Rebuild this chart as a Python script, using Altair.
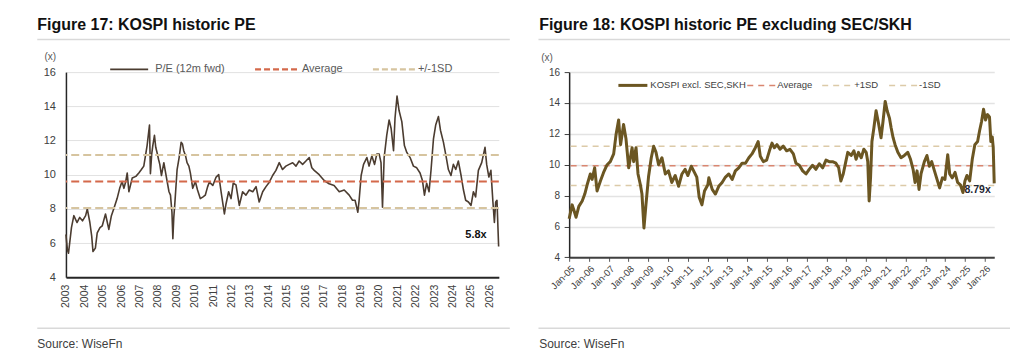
import altair as alt
import pandas as pd

FONT = "Liberation Sans"

# ---------------- Figure 17: KOSPI 12m forward P/E ----------------
kospi_year = [
    2003.00, 2003.08, 2003.14, 2003.30, 2003.43, 2003.60, 2003.75, 2003.90, 2004.07, 2004.16,
    2004.30, 2004.40, 2004.47, 2004.60, 2004.70, 2004.85, 2004.97, 2005.15, 2005.33, 2005.47,
    2005.60, 2005.78, 2005.92, 2006.05, 2006.15, 2006.25, 2006.33, 2006.42, 2006.60, 2006.80,
    2006.96, 2007.10, 2007.23, 2007.41, 2007.54, 2007.59, 2007.66, 2007.72, 2007.81, 2007.88,
    2007.95, 2008.03, 2008.10, 2008.19, 2008.32, 2008.40, 2008.50, 2008.60, 2008.68, 2008.76,
    2008.81, 2008.86, 2008.91, 2009.04, 2009.15, 2009.26, 2009.33, 2009.40, 2009.50, 2009.58,
    2009.68, 2009.76, 2009.89, 2010.03, 2010.15, 2010.30, 2010.45, 2010.57, 2010.70, 2010.79,
    2010.98, 2011.16, 2011.30, 2011.43, 2011.61, 2011.70, 2011.84, 2011.97, 2012.09, 2012.24,
    2012.42, 2012.60, 2012.78, 2012.96, 2013.15, 2013.33, 2013.50, 2013.69, 2013.87, 2014.05,
    2014.23, 2014.41, 2014.59, 2014.77, 2014.95, 2015.13, 2015.32, 2015.50, 2015.67, 2015.86,
    2016.04, 2016.22, 2016.36, 2016.49, 2016.76, 2017.03, 2017.30, 2017.57, 2017.85, 2018.12,
    2018.39, 2018.57, 2018.71, 2018.86, 2018.93, 2019.04, 2019.17, 2019.35, 2019.47, 2019.62,
    2019.77, 2019.89, 2020.02, 2020.12, 2020.20, 2020.29, 2020.43, 2020.56, 2020.67, 2020.80,
    2020.88, 2020.99, 2021.10, 2021.25, 2021.39, 2021.52, 2021.70, 2021.88, 2022.06, 2022.24,
    2022.37, 2022.48, 2022.60, 2022.73, 2022.84, 2022.97, 2023.09, 2023.24, 2023.35, 2023.51,
    2023.65, 2023.78, 2023.92, 2024.05, 2024.18, 2024.32, 2024.47, 2024.60, 2024.72, 2024.87,
    2025.01, 2025.14, 2025.26, 2025.41, 2025.59, 2025.77, 2025.86, 2025.98, 2026.09, 2026.20,
    2026.28, 2026.35, 2026.42, 2026.51,
]
kospi_pe = [
    6.5, 5.6, 5.4, 6.9, 7.6, 7.2, 7.5, 7.3, 7.6, 8.0,
    7.2, 6.4, 5.5, 5.7, 6.6, 6.9, 7.0, 7.7, 6.8, 7.6,
    8.0, 8.6, 9.2, 9.6, 9.2, 9.6, 10.1, 9.0, 9.8, 9.9,
    10.1, 10.3, 10.5, 11.7, 12.9, 10.05, 11.2, 11.7, 12.3, 11.6,
    11.3, 10.9, 10.6, 9.95, 10.7, 10.2, 9.6, 9.0, 8.8, 7.8,
    6.25, 7.5, 8.2, 10.3, 11.0, 11.9, 11.8, 11.4, 11.1, 10.7,
    10.5, 10.1, 9.2, 9.6, 9.1, 8.6, 8.7, 8.8, 9.3, 9.56,
    9.37, 9.86, 10.0, 9.0, 7.7, 8.3, 9.0, 8.6, 9.5, 9.4,
    8.2, 9.0, 8.8, 9.1, 9.0, 9.3, 8.4, 9.0, 9.3, 9.56,
    9.95, 10.25, 10.7, 10.3, 10.5, 10.6, 10.7, 10.5, 10.8, 10.6,
    10.8, 11.0, 10.4, 10.25, 10.0, 9.66, 9.47, 9.37, 9.0, 9.1,
    8.8, 8.5, 8.5, 7.8, 8.5, 9.95, 10.6, 11.0, 10.5, 11.1,
    10.6, 11.2, 11.2, 10.7, 8.1, 11.0, 12.3, 13.2, 12.7, 11.4,
    13.3, 14.6, 13.75, 13.1, 11.7, 11.3, 11.0, 10.5, 10.4, 10.1,
    9.66, 8.8, 9.5, 9.0, 10.3, 12.1, 12.9, 13.4, 12.6, 11.9,
    11.1, 10.3, 9.95, 10.6, 10.3, 10.8, 9.95, 9.1, 8.5, 8.4,
    8.2, 9.0, 8.7, 10.25, 10.7, 11.6, 10.6, 9.86, 10.25, 8.4,
    7.2, 8.4, 8.5, 5.8,
]
kospi_avg = 9.6
kospi_sd_hi = 11.15
kospi_sd_lo = 8.05

# ------------- Figure 18: KOSPI excluding SEC/SKH, 12m forward P/E -------------
excl_year = [
    2005.00, 2005.15, 2005.23, 2005.35, 2005.49, 2005.66, 2005.79, 2005.91, 2006.07, 2006.16,
    2006.29, 2006.41, 2006.58, 2006.74, 2006.92, 2007.08, 2007.25, 2007.37, 2007.50, 2007.60,
    2007.75, 2007.87, 2008.01, 2008.18, 2008.26, 2008.38, 2008.48, 2008.60, 2008.68, 2008.78,
    2008.88, 2009.01, 2009.15, 2009.27, 2009.39, 2009.52, 2009.69, 2009.86, 2010.02, 2010.19,
    2010.36, 2010.53, 2010.70, 2010.86, 2011.00, 2011.17, 2011.33, 2011.45, 2011.57, 2011.71,
    2011.84, 2012.01, 2012.06, 2012.23, 2012.39, 2012.56, 2012.73, 2012.90, 2013.07, 2013.24,
    2013.40, 2013.57, 2013.74, 2013.91, 2014.08, 2014.24, 2014.41, 2014.55, 2014.66, 2014.81,
    2014.98, 2015.12, 2015.25, 2015.37, 2015.50, 2015.66, 2015.82, 2015.99, 2016.16, 2016.33,
    2016.46, 2016.63, 2016.80, 2016.97, 2017.13, 2017.30, 2017.47, 2017.64, 2017.81, 2017.98,
    2018.14, 2018.31, 2018.48, 2018.62, 2018.73, 2018.85, 2018.98, 2019.08, 2019.25, 2019.39,
    2019.50, 2019.62, 2019.76, 2019.89, 2020.01, 2020.09, 2020.16, 2020.23, 2020.30, 2020.40,
    2020.51, 2020.63, 2020.76, 2020.86, 2020.97, 2021.07, 2021.19, 2021.27, 2021.37, 2021.47,
    2021.61, 2021.77, 2021.94, 2022.11, 2022.25, 2022.38, 2022.48, 2022.58, 2022.68, 2022.78,
    2022.95, 2023.08, 2023.20, 2023.32, 2023.46, 2023.59, 2023.72, 2023.86, 2023.99, 2024.13,
    2024.23, 2024.36, 2024.50, 2024.63, 2024.77, 2024.90, 2025.00, 2025.10, 2025.24, 2025.37,
    2025.50, 2025.64, 2025.74, 2025.84, 2025.94, 2026.04, 2026.14, 2026.24, 2026.31, 2026.38,
    2026.43, 2026.48,
]
excl_pe = [
    6.5, 7.4, 7.1, 6.6, 7.3, 7.65, 8.1, 8.7, 9.4, 9.05,
    9.8, 8.3, 8.95, 9.5, 10.0, 10.2, 10.7, 11.95, 12.9, 11.3,
    12.6, 11.7, 9.8, 11.1, 10.2, 11.1, 9.4, 8.7, 8.1, 5.9,
    7.4, 9.2, 10.45, 11.2, 10.8, 10.0, 10.45, 9.4, 9.6, 8.85,
    9.3, 8.6, 9.4, 9.7, 9.3, 9.9, 9.5, 9.2, 7.9, 7.4,
    8.3, 8.7, 9.15, 8.4, 8.1, 8.6, 8.85, 9.2, 9.4, 9.05,
    9.6, 9.8, 10.1, 10.1, 10.45, 10.7, 11.1, 11.5, 10.55, 10.2,
    10.3, 10.9, 11.4, 11.1, 11.3, 11.0, 11.2, 10.9, 11.0, 10.7,
    10.1, 9.96, 9.6, 9.4, 9.7, 9.96, 9.7, 10.06, 9.8, 10.3,
    10.2, 10.2, 10.1, 9.8, 8.95, 9.4, 10.2, 10.8, 10.6, 10.9,
    10.35, 10.8, 10.45, 11.0, 10.8, 10.2, 7.65, 9.15, 11.5, 12.4,
    13.5, 12.7, 11.75, 12.8, 14.1, 13.5, 13.0, 12.4, 11.75, 11.3,
    10.8, 10.45, 10.6, 10.8, 10.35, 9.7, 8.85, 9.6, 8.4, 9.4,
    10.2, 10.6, 9.9, 10.2, 9.6, 9.05, 8.5, 9.15, 9.05, 10.65,
    9.4, 9.15, 9.5, 8.85, 8.7, 8.2, 8.95, 9.3, 8.95, 10.35,
    11.3, 11.5, 12.2, 12.8, 13.6, 12.9, 13.25, 13.1, 11.5, 11.8,
    11.1, 8.79,
]
excl_avg = 9.93
excl_sd_hi = 11.2
excl_sd_lo = 8.65

left_year_ticks = list(range(2003, 2027))
right_year_ticks = list(range(2005, 2027))
pe_ticks = [4, 6, 8, 10, 12, 14, 16]

left_df = pd.DataFrame({"year": kospi_year, "pe": kospi_pe})
right_df = pd.DataFrame({"year": excl_year, "pe": excl_pe})

# ---------------- layout (pixels, relative to each plot origin) ----------------
L_W, L_H = 433.3, 205.3
R_W, R_H = 425.5, 185.4
L_X0, TOP = 65.7, 71.7
R_X0 = 568.7
GAP = (R_X0 - L_X0) - L_W

TEXT_DARK = "#111111"
TEXT_MID = "#404040"
SEP = "#d9d9d9"

ONE = alt.Data(values=[{}])


def text_at(x, y, s, size, color=TEXT_MID, weight="normal", align="left", baseline="middle"):
    return alt.Chart(ONE).mark_text(
        text=s, font=FONT, fontSize=size, color=color, fontWeight=weight,
        align=align, baseline=baseline,
    ).encode(x=alt.value(x), y=alt.value(y))


def hline(x1, x2, y, color, width, dash=None):
    props = dict(color=color, strokeWidth=width)
    if dash:
        props["strokeDash"] = dash
    return alt.Chart(ONE).mark_rule(**props).encode(
        x=alt.value(x1), x2=alt.value(x2), y=alt.value(y)
    )


def anchor(x, y):
    return alt.Chart(ONE).mark_rect(opacity=0).encode(
        x=alt.value(x), x2=alt.value(x + 1), y=alt.value(y), y2=alt.value(y + 1)
    )


# ---------------- left panel ----------------
lx_axis = alt.Axis(
    values=left_year_ticks, format="d", labelAngle=270, labelFont=FONT, labelFontSize=10.5,
    labelColor=TEXT_MID, ticks=False, tickSize=0, labelPadding=7, domainColor="#262626",
    domainWidth=2, grid=False, title=None, labelOverlap=False, labelFlush=False,
)
ly_axis = alt.Axis(
    values=pe_ticks, labelFont=FONT, labelFontSize=11, labelColor=TEXT_MID, ticks=False,
    tickSize=0, labelPadding=10.5, domainColor="#262626", domainWidth=1.5,
    gridColor="#e2e2e2", gridWidth=1, title=None,
)
lx = alt.X("year:Q", scale=alt.Scale(domain=[2003, 2026.52], nice=False, zero=False), axis=lx_axis)
ly = alt.Y("pe:Q", scale=alt.Scale(domain=[4, 16], nice=False, zero=False), axis=ly_axis)

L_LINE = "#4b3c30"
L_RED = "#d4694b"
L_TAN = "#d6c49f"

left_line = alt.Chart(left_df).mark_line(color=L_LINE, strokeWidth=1.6, strokeJoin="round").encode(x=lx, y=ly)


def level_rule(value, color, width, dash, x_enc, y_enc):
    return alt.Chart(pd.DataFrame({"pe": [value]})).mark_rule(
        color=color, strokeWidth=width, strokeDash=dash
    ).encode(y=y_enc)


left_levels = [
    level_rule(kospi_sd_hi, L_TAN, 2.2, [8, 4], lx, ly),
    level_rule(kospi_sd_lo, L_TAN, 2.2, [8, 4], lx, ly),
    level_rule(kospi_avg, L_RED, 2.2, [8, 4], lx, ly),
]

left_label = alt.Chart(left_df.tail(1)).transform_calculate(
    lab="format(datum.pe, '.1f') + 'x'"
).mark_text(
    font=FONT, fontSize=11, fontWeight="bold", color=TEXT_DARK, align="right",
    baseline="middle", dx=-12, dy=-11,
).encode(x=lx, y=ly, text="lab:N")

left_deco = [
    anchor(-L_X0, -TOP),
    text_at(-28.7, -41.7, "Figure 17: KOSPI historic PE", 16, TEXT_DARK, "bold", baseline="alphabetic"),
    hline(-28.7, 444.3, -32.7, SEP, 1.5),
    text_at(-15.7, -14.7, "(x)", 10, "#595959", align="center"),
    hline(44.3, 82.3, -2.7, L_LINE, 1.6),
    text_at(89.3, -2.7, "P/E (12m fwd)", 11, "#595959"),
    hline(189.3, 232.3, -2.7, L_RED, 2.2, [6, 3]),
    text_at(236.3, -2.7, "Average", 11, "#595959"),
    hline(307.3, 349.3, -2.7, L_TAN, 2.2, [6, 3]),
    text_at(352.3, -2.7, "+/-1SD", 11, "#595959"),
    hline(-28.7, 444.3, 256.3, SEP, 1.5),
    text_at(-28.7, 275.8, "Source: WiseFn", 12, TEXT_MID, baseline="alphabetic"),
]

left = alt.layer(left_line, *left_levels, left_label, *left_deco).properties(width=L_W, height=L_H)

# ---------------- right panel ----------------
rx_axis = alt.Axis(
    values=right_year_ticks, format="d", labelExpr="'Jan-' + slice(datum.label, 2)",
    labelAngle=315, labelFont=FONT, labelFontSize=9.5, labelColor=TEXT_MID, ticks=True,
    tickSize=4, tickColor="#595959", tickWidth=1, labelPadding=2, domainColor="#404040",
    domainWidth=2, grid=False, title=None, labelOverlap=False, labelFlush=False,
)
ry_axis = alt.Axis(
    values=pe_ticks, labelFont=FONT, labelFontSize=10, labelColor=TEXT_MID, ticks=True,
    tickSize=5, tickColor="#404040", labelPadding=4.5, domainColor="#262626", domainWidth=1.5,
    gridColor="#e3e3e3", gridWidth=1.5, title=None,
)
rx = alt.X("year:Q", scale=alt.Scale(domain=[2005, 2026.48], nice=False, zero=False), axis=rx_axis)
ry = alt.Y("pe:Q", scale=alt.Scale(domain=[4, 16], nice=False, zero=False), axis=ry_axis)

R_LINE = "#6b5622"
R_RED = "#d98670"
R_TAN = "#dccaa8"

right_levels = [
    level_rule(excl_sd_hi, R_TAN, 1.5, [6, 5], rx, ry),
    level_rule(excl_sd_lo, R_TAN, 1.5, [6, 5], rx, ry),
    level_rule(excl_avg, R_RED, 1.5, [6, 5], rx, ry),
]
right_line = alt.Chart(right_df).mark_line(color=R_LINE, strokeWidth=3, strokeJoin="round").encode(x=rx, y=ry)

right_label = alt.Chart(right_df.tail(1)).transform_calculate(
    lab="format(datum.pe, '.2f') + 'x'"
).mark_text(
    font=FONT, fontSize=10.5, fontWeight="bold", color="#1d2633", align="right",
    baseline="middle", dx=-3.5, dy=7,
).encode(x=rx, y=ry, text="lab:N")

right_deco = [
    text_at(-30, -41.7, "Figure 18: KOSPI historic PE excluding SEC/SKH", 16, TEXT_DARK, "bold", baseline="alphabetic"),
    hline(-30.7, 441.3, -32.7, SEP, 1.5),
    text_at(-22.2, -13.7, "(x)", 10, "#595959", align="center"),
    hline(49.3, 78.3, 13.3, R_LINE, 3),
    text_at(81.3, 13.3, "KOSPI excl. SEC,SKH", 9.5, TEXT_MID),
    hline(178.3, 206.3, 13.3, R_RED, 1.5, [6, 5]),
    text_at(208.3, 13.3, "Average", 9.5, TEXT_MID),
    hline(253.3, 283.3, 13.3, R_TAN, 1.5, [6, 5]),
    text_at(285.3, 13.3, "+1SD", 9.5, TEXT_MID),
    hline(320.3, 348.3, 13.3, R_TAN, 1.5, [6, 5]),
    text_at(350.3, 13.3, "-1SD", 9.5, TEXT_MID),
    hline(-30.7, 441.3, 256.3, SEP, 1.5),
    text_at(-30, 275.8, "Source: WiseFn", 12, TEXT_MID, baseline="alphabetic"),
    anchor(1023 - R_X0, 357 - TOP),
]

right = alt.layer(*right_levels, right_line, right_label, *right_deco).properties(width=R_W, height=R_H)

chart = (
    alt.hconcat(left, right, spacing=GAP, bounds="flush")
    .properties(padding=0, background="white")
    .configure_view(stroke=None)
)

chart.save("out.html", embed_options={"renderer": "svg", "actions": False})
